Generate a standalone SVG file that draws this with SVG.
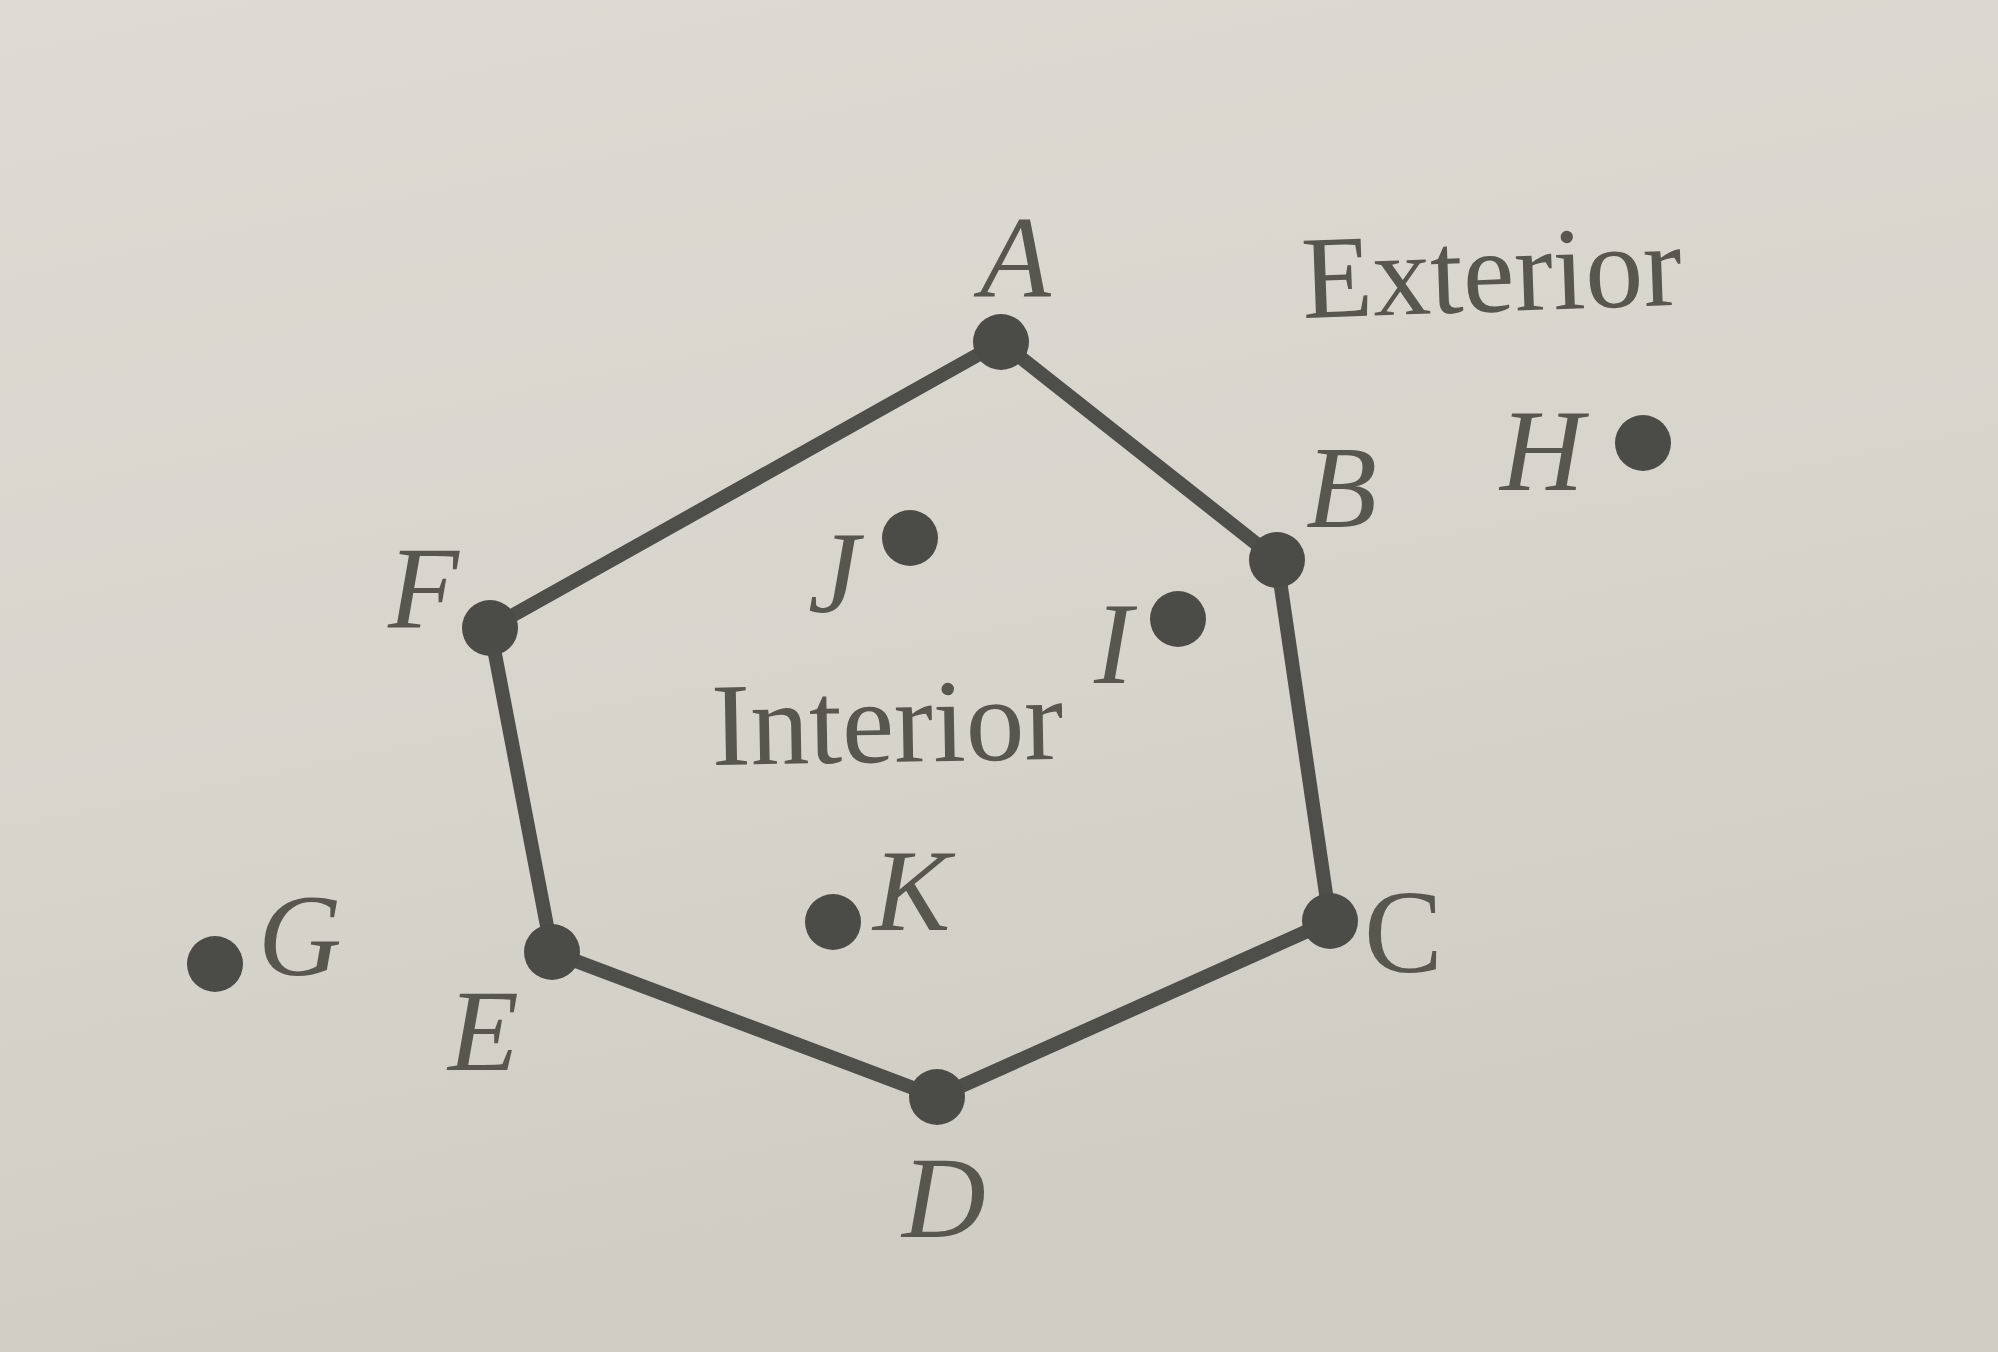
<svg xmlns="http://www.w3.org/2000/svg" width="1998" height="1352" viewBox="0 0 1998 1352">
<style>
.lbl{font-family:"Liberation Serif","DejaVu Serif",serif;font-size:116px;fill:#57574f;font-style:italic}
.word{font-family:"Liberation Serif","DejaVu Serif",serif;font-size:118px;fill:#57574f}
.dot{fill:#4b4b47}
.edge{stroke:#4e4e4a;stroke-width:14;stroke-linecap:round;fill:none}
</style>
<defs>
<linearGradient id="bg" x1="0" y1="0" x2="0.3" y2="1">
<stop offset="0" stop-color="#dedbd4"/>
<stop offset="0.6" stop-color="#d7d4cc"/>
<stop offset="1" stop-color="#cfccc4"/>
</linearGradient>
</defs>
<rect width="1998" height="1352" fill="url(#bg)"/>
<g id="connectors">
<path class="edge" d="M1001,342 L1277,560 L1330,921 L937,1097 L552,952 L490,628 Z"/>
</g>
<g id="A"><circle class="dot" cx="1001" cy="342" r="28"/><text class="lbl" x="980" y="297">A</text></g>
<g id="B"><circle class="dot" cx="1277" cy="560" r="28"/><text class="lbl" x="1306" y="527">B</text></g>
<g id="C"><circle class="dot" cx="1330" cy="921" r="28"/><text class="word" x="1364" y="972">C</text></g>
<g id="D"><circle class="dot" cx="937" cy="1097" r="28"/><text class="lbl" x="902" y="1237">D</text></g>
<g id="E"><circle class="dot" cx="552" cy="952" r="28"/><text class="lbl" x="448" y="1070">E</text></g>
<g id="F"><circle class="dot" cx="490" cy="628" r="28"/><text class="lbl" x="388" y="627">F</text></g>
<g id="G"><circle class="dot" cx="215" cy="964" r="28"/><text class="lbl" x="258" y="975">G</text></g>
<g id="H"><circle class="dot" cx="1643" cy="443" r="28"/><text class="lbl" x="1500" y="490">H</text></g>
<g id="I"><circle class="dot" cx="1178" cy="619" r="28"/><text class="lbl" x="1094" y="683">I</text></g>
<g id="J"><circle class="dot" cx="910" cy="538" r="28"/><text class="lbl" x="808" y="612">J</text></g>
<g id="K"><circle class="dot" cx="833" cy="922" r="28"/><text class="lbl" x="873" y="930">K</text></g>
<g id="exterior"><text class="word" x="1303" y="318" textLength="380" lengthAdjust="spacingAndGlyphs" transform="rotate(-2 1303 318)">Exterior</text></g>
<g id="interior"><text class="word" x="712" y="765" textLength="352" lengthAdjust="spacingAndGlyphs" transform="rotate(-1 712 765)">Interior</text></g>
</svg>
